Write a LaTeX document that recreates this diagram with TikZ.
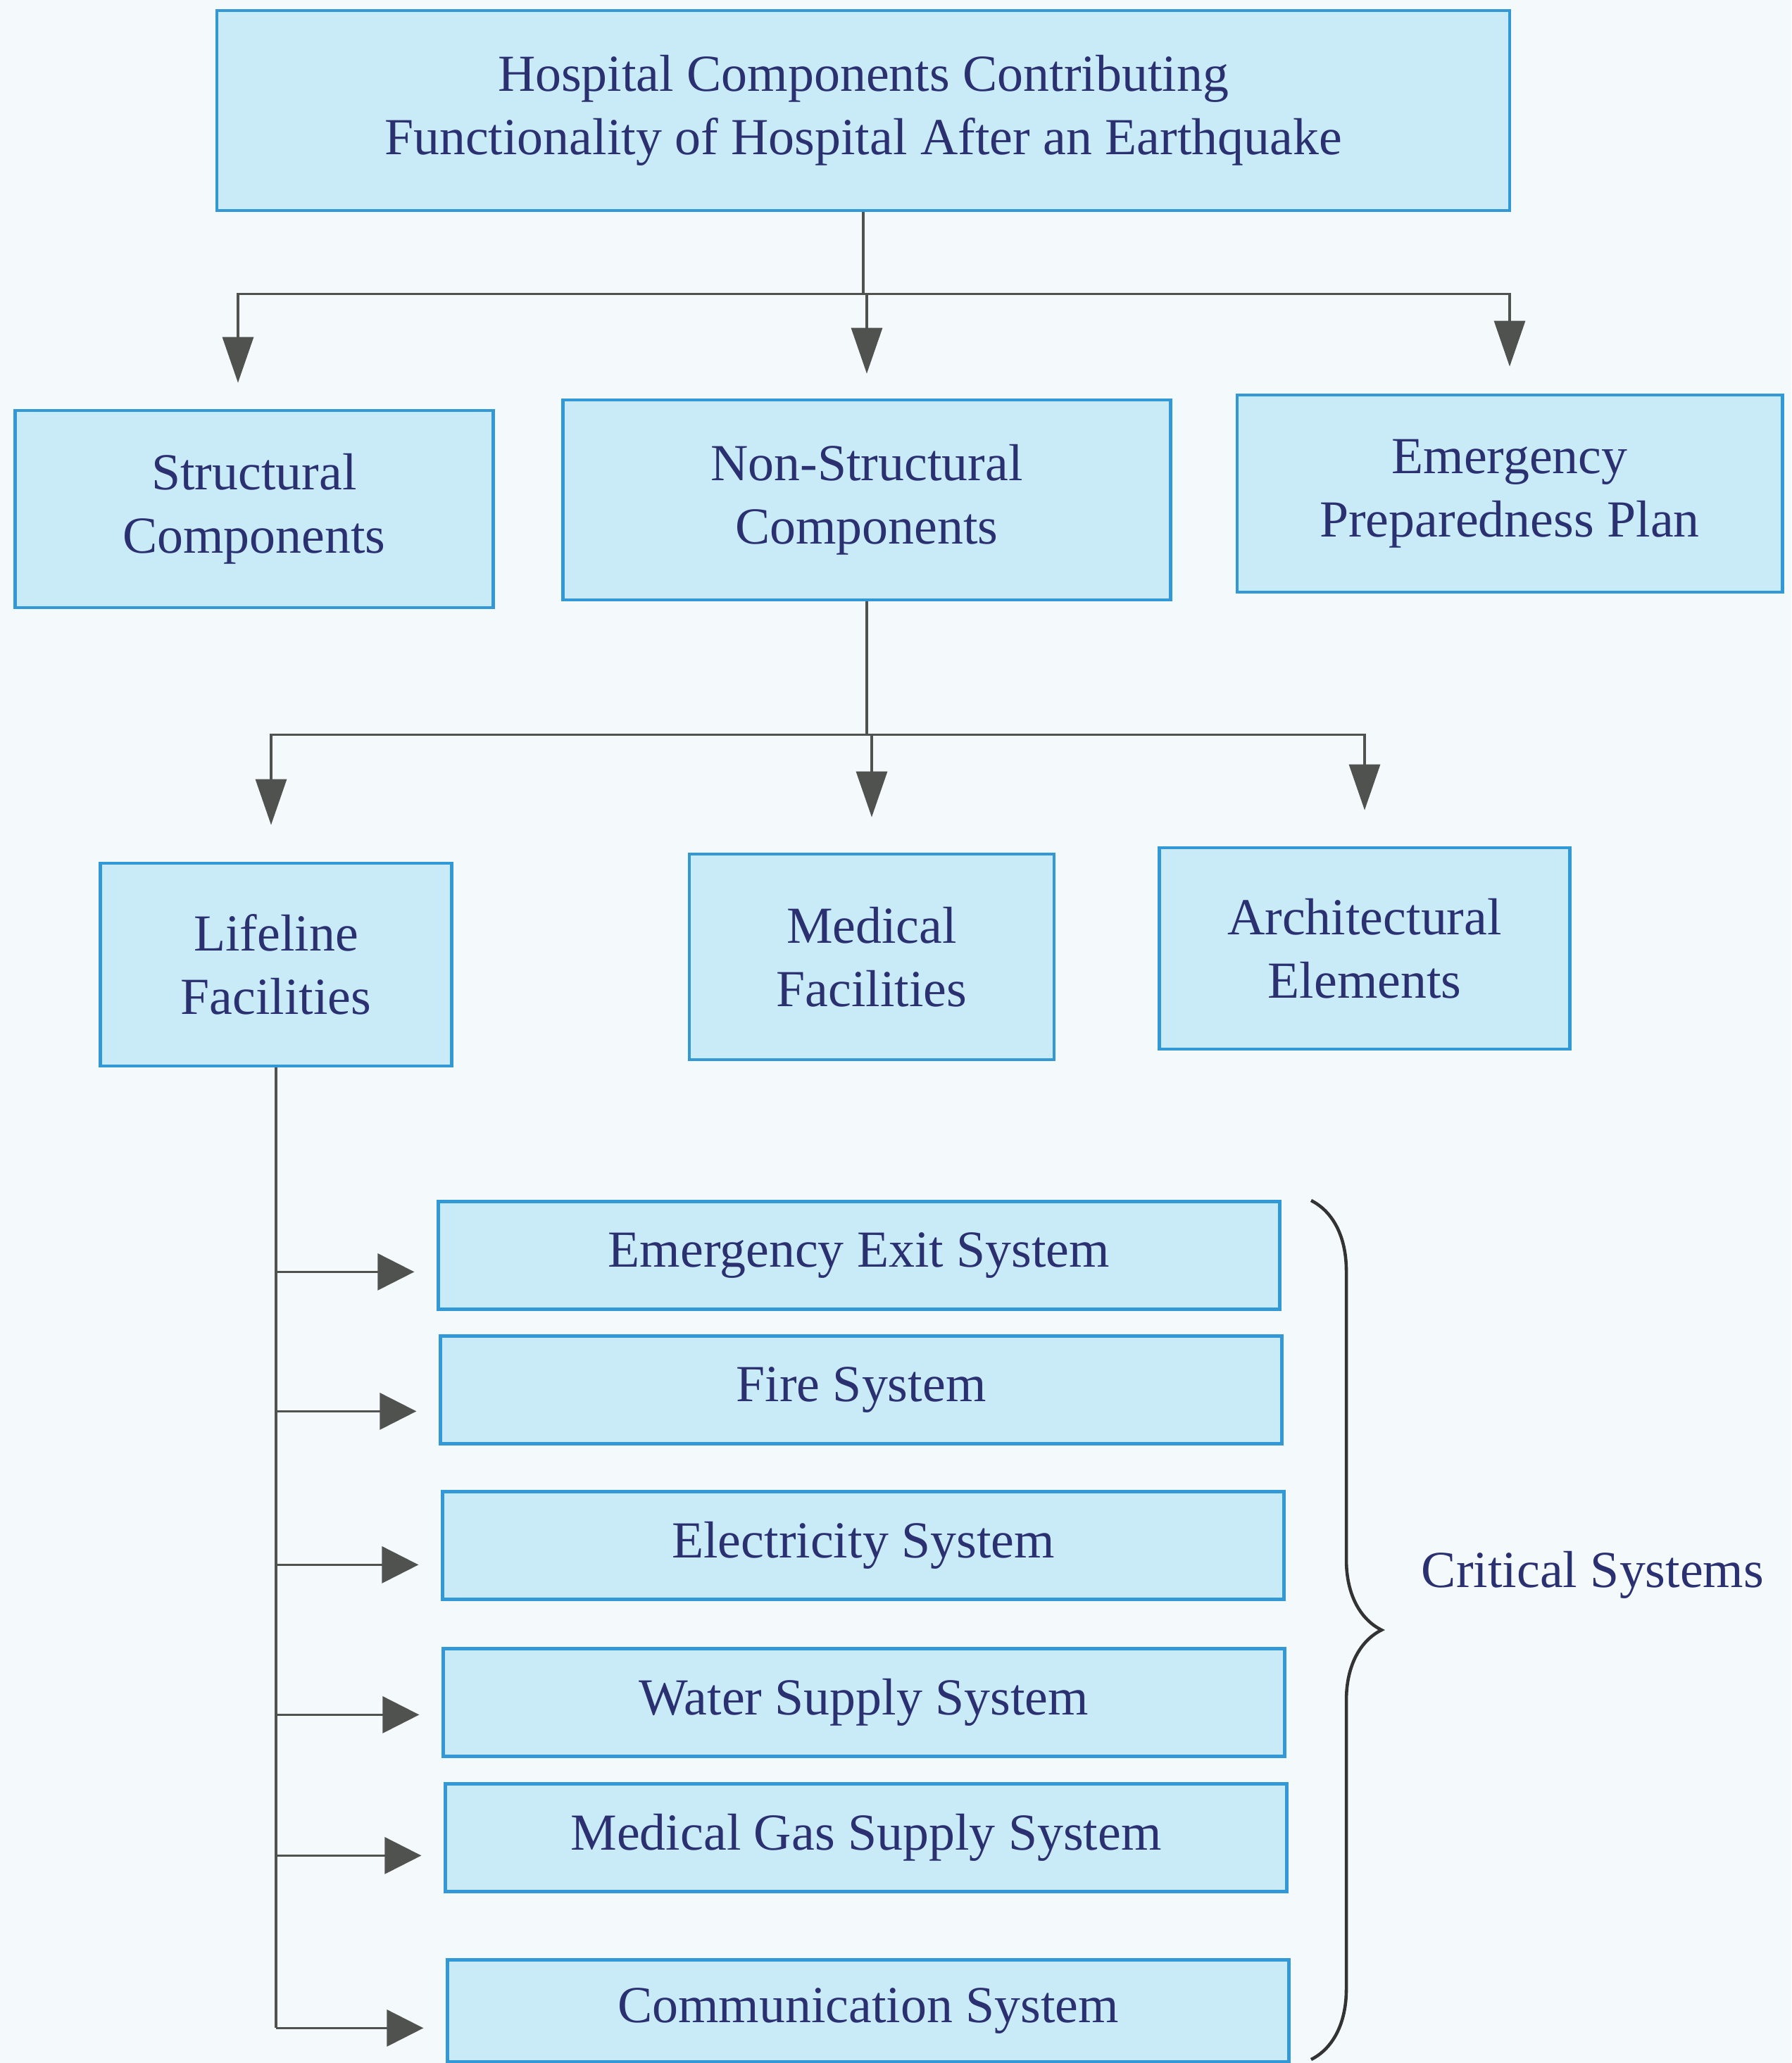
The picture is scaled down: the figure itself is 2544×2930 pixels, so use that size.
\documentclass[tikz,border=0pt]{standalone}
\usepackage{fontspec}
\setmainfont{Liberation Serif}
\usetikzlibrary{arrows.meta,decorations.pathreplacing,calc}
\definecolor{bg}{HTML}{F4FAFC}
\definecolor{boxfill}{HTML}{C9EBF7}
\definecolor{boxline}{HTML}{3399D6}
\definecolor{txt}{HTML}{2B3170}
\definecolor{arrowgray}{HTML}{505250}
\begin{document}
\begin{tikzpicture}[x=0.01cm,y=-0.01cm,
 box/.style={draw=boxline, line width=1.3pt, fill=boxfill, text=txt, align=center, font=\fontsize{21}{25.5}\selectfont, inner sep=0pt},
 link/.style={draw=arrowgray, line width=0.9pt},
 varr/.style={link, -{Triangle[length=0.65cm,width=0.44cm]}},
 harr/.style={link, -{Triangle[length=0.52cm,width=0.52cm]}}]
\fill[bg] (0,0) rectangle (2544,2930);
\useasboundingbox (0,0) rectangle (2544,2930);

% level 0
\node[box, minimum width=18.35cm, minimum height=2.84cm] (top) at (1226,157) {Hospital Components Contributing\\Functionality of Hospital After an Earthquake};
% level 1
\node[box, minimum width=6.79cm, minimum height=2.80cm] (struct) at (361,723) {Structural\\Components};
\node[box, minimum width=8.63cm, minimum height=2.84cm] (ns) at (1231,710) {Non-Structural\\Components};
\node[box, minimum width=7.74cm, minimum height=2.80cm] (emerg) at (2144,701) {Emergency\\Preparedness Plan};
% level 2
\node[box, minimum width=4.99cm, minimum height=2.88cm] (life) at (392,1370) {Lifeline\\Facilities};
\node[box, minimum width=5.18cm, minimum height=2.92cm] (med) at (1238,1359) {Medical\\Facilities};
\node[box, minimum width=5.83cm, minimum height=2.86cm] (arch) at (1938,1347) {Architectural\\Elements};
% systems
\node[box, minimum width=11.94cm, minimum height=1.53cm] (ees) at (1220,1783) {Emergency Exit System};
\node[box, minimum width=11.94cm, minimum height=1.53cm] (fire) at (1223,1974) {Fire System};
\node[box, minimum width=11.94cm, minimum height=1.53cm] (elec) at (1226,2195) {Electricity System};
\node[box, minimum width=11.94cm, minimum height=1.53cm] (water) at (1227,2418) {Water Supply System};
\node[box, minimum width=11.94cm, minimum height=1.53cm] (gas) at (1230,2610) {Medical Gas Supply System};
\node[box, minimum width=11.94cm, minimum height=1.45cm] (comm) at (1233,2856) {Communication System};

\node[text=txt, font=\fontsize{21}{25.5}\selectfont] (crit) at (2262,2237) {Critical Systems};

% connectors level 0 -> 1
\coordinate (j1) at ($(top.south)+(0,116)$);
\draw[link] (top.south) -- (j1);
\draw[varr, shorten >=0.37cm] (j1) -| ([xshift=-0.23cm]struct.north);
\draw[varr, shorten >=0.35cm] (j1) -| (ns.north);
\draw[varr, shorten >=0.38cm] (j1) -| (emerg.north);

% level 1 -> 2
\coordinate (j2) at ($(ns.south)+(0,189)$);
\draw[link] (ns.south) -- (j2);
\draw[varr, shorten >=0.52cm] (j2) -| ([xshift=-0.07cm]life.north);
\draw[varr, shorten >=0.50cm] (j2) -| (med.north);
\draw[varr, shorten >=0.51cm] (j2) -| (arch.north);

% lifeline trunk
\coordinate (a1) at ($(life.south)+(0,290)$);
\coordinate (a2) at ($(life.south)+(0,488)$);
\coordinate (a3) at ($(life.south)+(0,706)$);
\coordinate (a4) at ($(life.south)+(0,919)$);
\coordinate (a5) at ($(life.south)+(0,1119)$);
\coordinate (a6) at ($(life.south)+(0,1364)$);
\draw[link] (life.south) -- (a6);
\draw[harr, shorten >=0.32cm] (a1) -- (a1 -| ees.west);
\draw[harr, shorten >=0.32cm] (a2) -- (a2 -| fire.west);
\draw[harr, shorten >=0.32cm] (a3) -- (a3 -| elec.west);
\draw[harr, shorten >=0.32cm] (a4) -- (a4 -| water.west);
\draw[harr, shorten >=0.32cm] (a5) -- (a5 -| gas.west);
\draw[harr, shorten >=0.32cm] (a6) -- (a6 -| comm.west);

% brace
\draw[draw=black!80, line width=1.3pt, decorate, decoration={brace, amplitude=1cm}] (1862,1705) -- (1862,2925);
\end{tikzpicture}
\end{document}
